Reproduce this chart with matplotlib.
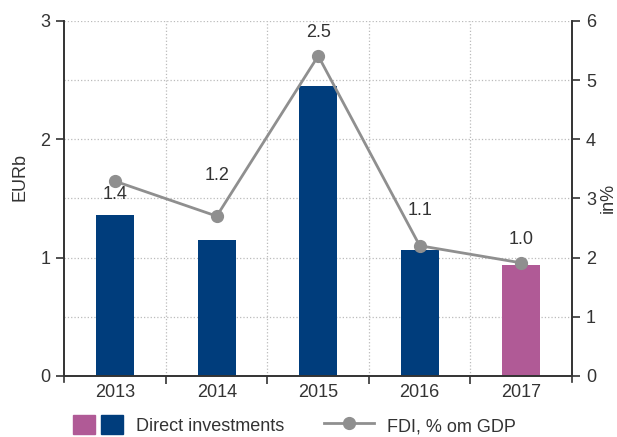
import matplotlib
matplotlib.use('Agg')
import matplotlib.pyplot as plt
from matplotlib.patches import Patch
from matplotlib.lines import Line2D
from matplotlib.legend_handler import HandlerTuple
from matplotlib.ticker import MultipleLocator

plt.rcParams['font.family'] = ['Liberation Sans', 'DejaVu Sans']

years = ['2013', '2014', '2015', '2016', '2017']
direct_inv = [1.36, 1.15, 2.45, 1.06, 0.94]
fdi_pct_gdp = [3.29, 2.70, 5.41, 2.20, 1.91]
value_labels = ['1.4', '1.2', '2.5', '1.1', '1.0']

blue = '#003d7c'
pink = '#b05a96'
grey_line = '#8f8f8f'
txt = '#333333'
fs = 13
bar_colors = [blue, blue, blue, blue, pink]
# label offsets (points) relative to the line markers
label_dy = [-9.5, 29.5, 17, 25, 16.5]

fig = plt.figure(figsize=(6.17, 4.37), dpi=100)
ax = fig.add_axes([0.1045, 0.140, 0.8225, 0.812])
ax2 = ax.twinx()

x = list(range(len(years)))
ax.bar(x, direct_inv, width=0.375, color=bar_colors, zorder=2)
ax.set_xlim(-0.5, len(years) - 0.5)
ax.set_ylim(0, 3)
ax2.set_ylim(0, 6)

ax2.plot(x, fdi_pct_gdp, color=grey_line, lw=2, marker='o', ms=8.5, zorder=3)
for i, lab in enumerate(value_labels):
    ax2.annotate(lab, (x[i], fdi_pct_gdp[i]), xytext=(0, label_dy[i]),
                 textcoords='offset points', ha='center', va='center',
                 fontsize=fs, color=txt)

# grid
ax.yaxis.set_major_locator(MultipleLocator(1))
ax.yaxis.set_minor_locator(MultipleLocator(0.5))
ax.set_xticks([i + 0.5 for i in x[:-1]], minor=True)
ax.grid(which='minor', axis='both', ls=':', color='#bbbbbb', lw=0.9)
ax.grid(which='major', axis='y', ls=':', color='#bbbbbb', lw=0.9)
ax.set_axisbelow(True)

# x ticks at category boundaries, labels centered
ax.set_xticks(x)
ax.set_xticklabels(years)
ax.tick_params(axis='x', which='major', length=0, labelsize=fs,
               labelcolor=txt, pad=6)
ax.tick_params(axis='x', which='minor', length=6, width=1.2, color=txt)
ax.tick_params(axis='y', which='major', length=6, width=1.2, color=txt,
               labelsize=fs, labelcolor=txt, pad=4)
ax.tick_params(axis='y', which='minor', length=0)
ax2.set_yticks(range(0, 7))
ax2.tick_params(axis='y', length=6, width=1.2, color=txt,
                labelsize=fs, labelcolor=txt, pad=4)

# outer edge ticks on x axis
for xe in (-0.5, len(years) - 0.5):
    ax.plot([xe, xe], [0, -0.055], color=txt, lw=1.2, clip_on=False, zorder=5)

for a in (ax, ax2):
    a.spines['top'].set_visible(False)
    for s in ('left', 'right', 'bottom'):
        a.spines[s].set_color(txt)
        a.spines[s].set_linewidth(1.2)

fig.text(0.032, 0.595, 'EURb', rotation=90, ha='center', va='center',
         fontsize=fs, color=txt)
fig.text(0.986, 0.547, 'in%', rotation=90, ha='center', va='center',
         fontsize=fs, color=txt)

handles = [(Patch(color=pink), Patch(color=blue)),
           Line2D([0], [0], color=grey_line, lw=2, marker='o', ms=8.5)]
fig.legend(handles, ['Direct investments', 'FDI, % om GDP'],
           loc='center', bbox_to_anchor=(0.477, 0.027), ncol=2, frameon=False,
           fontsize=fs, labelcolor=txt, handlelength=2.8, handleheight=1.25,
           columnspacing=2.2, handletextpad=0.7,
           handler_map={tuple: HandlerTuple(ndivide=None, pad=0.3)})

fig.savefig('out.png', dpi=100)
